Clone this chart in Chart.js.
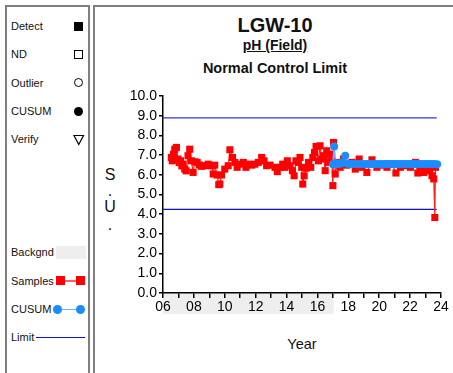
<!DOCTYPE html>
<html>
<head>
<meta charset="utf-8">
<script src="https://cdn.jsdelivr.net/npm/chart.js@4"></script>
<style>
  html, body { margin: 0; padding: 0; background: #fff; }
  body { width: 453px; height: 373px; position: relative; overflow: hidden; font-family: 'Liberation Sans', Arial, sans-serif; color: #111; }
  .abs { position: absolute; }
  .panel { position: absolute; border: 2px solid #7f7f7f; box-sizing: border-box; }
  .lg { position: absolute; left: 11px; height: 14px; line-height: 14px; font-size: 11px; }
  .ttl { position: absolute; left: 155px; width: 240px; text-align: center; font-weight: bold; }
  #wrap { position: absolute; left: 0; top: 0; width: 453px; height: 373px; }
</style>
</head>
<body>
<div class="panel" style="left:5px;top:5px;width:85px;height:400px;"></div>
<div class="panel" style="left:93px;top:5px;width:400px;height:400px;"></div>

<!-- legend -->
<div class="lg" style="top:19px;">Detect</div>
<div class="abs" style="left:74px;top:22px;width:9px;height:9px;background:#000;"></div>
<div class="lg" style="top:47px;">ND</div>
<div class="abs" style="left:74px;top:50px;width:9px;height:9px;border:1.3px solid #000;box-sizing:border-box;"></div>
<div class="lg" style="top:76px;">Outlier</div>
<div class="abs" style="left:74px;top:78px;width:9px;height:9px;border:1px solid #000;box-sizing:border-box;border-radius:50%;"></div>
<div class="lg" style="top:104px;">CUSUM</div>
<div class="abs" style="left:74px;top:106.5px;width:9px;height:9px;background:#000;border-radius:50%;"></div>
<div class="lg" style="top:132px;">Verify</div>
<svg class="abs" style="left:73px;top:134px;" width="12" height="12"><polygon points="1,1.5 10.5,1.5 5.75,10.5" fill="none" stroke="#000" stroke-width="1.2"/></svg>

<div class="lg" style="top:245px;">Backgnd</div>
<div class="abs" style="left:56px;top:246px;width:30px;height:13px;background:#eeeeee;"></div>
<div class="lg" style="top:274px;">Samples</div>
<div class="abs" style="left:60px;top:280px;width:21px;height:1.5px;background:#ff6060;"></div>
<div class="abs" style="left:56px;top:276px;width:9px;height:9px;background:#ff0000;"></div>
<div class="abs" style="left:76px;top:276px;width:9px;height:9px;background:#ff0000;"></div>
<div class="lg" style="top:302px;">CUSUM</div>
<div class="abs" style="left:58px;top:308.5px;width:23px;height:1.5px;background:#6fb0ff;"></div>
<div class="abs" style="left:53px;top:304.5px;width:9px;height:9px;background:#1a8cff;border-radius:50%;"></div>
<div class="abs" style="left:76px;top:304.5px;width:9px;height:9px;background:#1a8cff;border-radius:50%;"></div>
<div class="lg" style="top:330px;">Limit</div>
<div class="abs" style="left:36px;top:336.5px;width:49px;height:1.3px;background:#1010dd;"></div>

<!-- titles -->
<div class="ttl" style="top:13px;font-size:20px;line-height:24px;">LGW-10</div>
<div class="ttl" style="top:37px;font-size:14px;line-height:16px;"><u>pH (Field)</u></div>
<div class="ttl" style="top:60px;font-size:14.5px;line-height:17px;">Normal Control Limit</div>

<!-- axis titles -->
<div class="abs" style="left:100px;top:165px;width:20px;text-align:center;font-size:16px;line-height:20px;">S</div>
<div class="abs" style="left:100px;top:181px;width:20px;text-align:center;font-size:16px;line-height:20px;">.</div>
<div class="abs" style="left:100px;top:197px;width:20px;text-align:center;font-size:16px;line-height:20px;">U</div>
<div class="abs" style="left:100px;top:215px;width:20px;text-align:center;font-size:16px;line-height:20px;">.</div>
<div class="abs" style="left:262px;top:335px;width:80px;text-align:center;font-size:14.5px;line-height:18px;">Year</div>

<div id="wrap"><canvas id="chart" width="453" height="373"></canvas></div>

<script>
// sample dates (decimal year, 2000-based) and pH values
const sampleYears = [6.54, 6.60, 6.68, 6.76, 6.87, 6.97, 7.05, 7.13, 7.22, 7.30, 7.41, 7.50, 7.62, 7.73, 7.84, 7.95,
  8.06, 8.21, 8.35, 8.49, 8.71, 8.92, 9.14, 9.25, 9.35, 9.50, 9.61, 9.68, 9.79, 10.00, 10.22, 10.33, 10.50, 10.65,
  10.80, 10.98, 11.20, 11.37, 11.52, 11.74, 11.95, 12.17, 12.39, 12.54, 12.71, 12.93, 13.25, 13.40, 13.58, 13.75,
  13.90, 14.05, 14.22, 14.38, 14.49, 14.61, 14.76, 14.87, 14.98, 15.05, 15.14, 15.26, 15.42, 15.57, 15.70, 15.81,
  15.91, 16.06, 16.17, 16.28, 16.39, 16.50, 16.60, 16.71, 16.82, 16.93, 17.00, 17.04, 17.15, 17.30, 17.47, 17.69,
  17.90, 18.23, 18.45, 18.70, 18.88, 19.20, 19.53, 19.85, 20.18, 20.50, 20.83, 21.08, 21.37, 21.69, 22.02, 22.34,
  22.50, 22.67, 22.88, 23.10, 23.27, 23.42, 23.53, 23.60, 23.64];
const sampleValues = [6.88, 6.71, 7.05, 7.30, 7.39, 6.80, 6.62, 6.71, 6.45, 6.54, 6.29, 6.20, 6.97, 7.30, 6.71, 6.12,
  6.66, 6.63, 6.50, 6.43, 6.46, 6.54, 6.46, 6.04, 6.49, 5.99, 5.50, 5.53, 5.99, 6.29, 6.46, 7.27, 6.88, 6.63,
  6.38, 6.54, 6.63, 6.38, 6.54, 6.49, 6.54, 6.63, 6.88, 6.71, 6.46, 6.49, 6.38, 6.16, 6.38, 6.54,
  6.38, 6.71, 6.46, 6.21, 5.95, 6.71, 6.63, 6.88, 6.38, 5.53, 5.95, 6.33, 6.63, 6.38, 6.88, 7.13,
  7.44, 6.71, 7.47, 6.80, 6.97, 6.21, 7.22, 6.63, 7.05, 6.71, 5.45, 7.64, 6.04, 6.63, 6.38, 6.80,
  6.49, 6.63, 6.29, 6.80, 6.38, 6.12, 6.76, 6.38, 6.49, 6.38, 6.54, 6.09, 6.38, 6.46, 6.38, 6.63,
  6.09, 6.38, 6.12, 6.38, 6.21, 5.95, 5.79, 3.83, 6.38];

// CUSUM series
const cusumYears = [17.00, 17.08, 17.18, 17.30, 17.45, 17.60, 17.80, 17.95, 18.15, 18.35, 18.55, 18.75, 18.95,
  19.15, 19.35, 19.55, 19.75, 19.95, 20.15, 20.35, 20.55, 20.75, 20.95, 21.15, 21.35, 21.55, 21.75, 21.95,
  22.15, 22.35, 22.55, 22.75, 22.95, 23.15, 23.35, 23.55, 23.75];
const cusumValues = [6.54, 7.44, 6.60, 6.55, 6.56, 6.62, 6.97, 6.56, 6.55, 6.55, 6.55, 6.55, 6.55,
  6.55, 6.55, 6.55, 6.55, 6.55, 6.55, 6.55, 6.55, 6.55, 6.55, 6.55, 6.55, 6.55, 6.55, 6.55,
  6.55, 6.55, 6.55, 6.55, 6.55, 6.55, 6.55, 6.55, 6.54];

// control limits
const limitYears = [6, 23.72];
const upperLimit = 8.89;
const lowerLimit = 4.25;

// background period shown under the axis
const backgroundStart = 6;
const backgroundEnd = 17.05;

const toXY = (xs, ys) => xs.map((x, i) => ({ x: x, y: ys[i] }));

const bgBand = {
  id: 'bgBand',
  beforeDraw(chart) {
    const { ctx, scales: { x }, chartArea } = chart;
    const x0 = x.getPixelForValue(backgroundStart);
    const x1 = x.getPixelForValue(backgroundEnd);
    ctx.save();
    ctx.fillStyle = '#eeeeee';
    ctx.fillRect(x0, chartArea.bottom, x1 - x0, 21);
    ctx.restore();
  }
};

Chart.defaults.font.family = "'Liberation Sans', Arial, sans-serif";
Chart.defaults.color = '#000';

new Chart(document.getElementById('chart'), {
  type: 'scatter',
  data: {
    datasets: [
      {
        label: 'CUSUM',
        data: toXY(cusumYears, cusumValues),
        showLine: true,
        borderColor: '#6fb0ff',
        borderWidth: 1.5,
        backgroundColor: '#1a8cff',
        pointStyle: 'circle',
        pointRadius: 4,
        pointBorderWidth: 0,
        order: 0
      },
      {
        label: 'Samples',
        data: toXY(sampleYears, sampleValues),
        showLine: true,
        borderColor: '#ff2020',
        borderWidth: 1.2,
        backgroundColor: '#ff0000',
        pointStyle: 'rect',
        pointRadius: 5,
        pointBorderWidth: 0,
        order: 1
      },
      {
        label: 'Upper',
        data: toXY(limitYears, limitYears.map(() => upperLimit)),
        showLine: true,
        borderColor: '#3030dd',
        borderWidth: 1.2,
        pointRadius: 0,
        order: 2
      },
      {
        label: 'Lower',
        data: toXY(limitYears, limitYears.map(() => lowerLimit)),
        showLine: true,
        borderColor: '#1010cc',
        borderWidth: 1.2,
        pointRadius: 0,
        order: 2
      }
    ]
  },
  options: {
    responsive: false,
    animation: false,
    devicePixelRatio: 1,
    layout: { padding: { left: 123, right: 12, top: 96, bottom: 50 } },
    plugins: { legend: { display: false }, tooltip: { enabled: false } },
    scales: {
      x: {
        type: 'linear',
        min: 6,
        max: 24,
        afterFit: (s) => { s.height = 30; },
        ticks: {
          stepSize: 1,
          autoSkip: false,
          maxRotation: 0,
          padding: 1,
          font: { size: 14 },
          callback: (v) => (v % 2 === 0 ? String(v).padStart(2, '0') : '')
        },
        grid: { drawOnChartArea: false, drawTicks: true, tickLength: 5, color: '#000', lineWidth: 1.5 },
        border: { display: true, color: '#000', width: 1.5 }
      },
      y: {
        min: 0,
        max: 10,
        afterFit: (s) => { s.width = 40; },
        ticks: {
          stepSize: 1,
          autoSkip: false,
          padding: 2,
          font: { size: 14 },
          callback: (v) => v.toFixed(1)
        },
        grid: { drawOnChartArea: false, drawTicks: true, tickLength: 4, color: '#000', lineWidth: 1.5 },
        border: { display: true, color: '#000', width: 1.5 }
      }
    }
  },
  plugins: [bgBand]
});
</script>
</body>
</html>
